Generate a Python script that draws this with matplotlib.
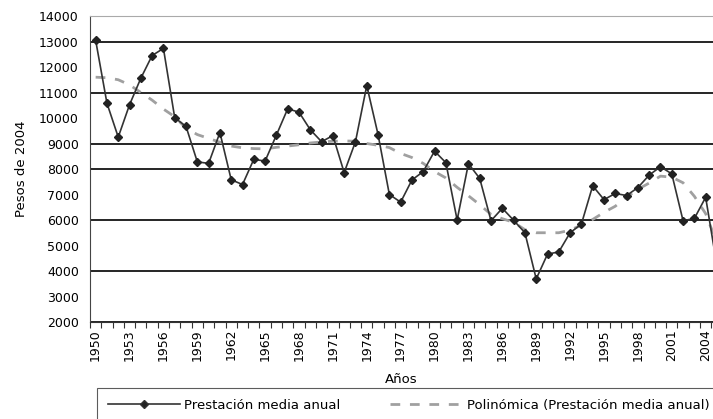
import matplotlib
matplotlib.use('Agg')
import matplotlib.pyplot as plt
from matplotlib.lines import Line2D

# years shown on the chart (2005 is cut off by the right edge)
years = list(range(1950, 2006))

prestacion = [13050, 10580, 9250, 10520, 11560, 12450, 12730, 10010, 9670, 8280,
              8220, 9430, 7580, 7390, 8380, 8310, 9330, 10360, 10230, 9540,
              9070, 9310, 7860, 9070, 11270, 9350, 7000, 6700, 7570, 7900,
              8700, 8250, 6000, 8210, 7630, 5970, 6460, 5990, 5500, 3690,
              4660, 4750, 5500, 5840, 7340, 6800, 7040, 6960, 7270, 7760,
              8090, 7810, 5970, 6060, 6890, 4200]

polinomica = [11600, 11580, 11500, 11300, 11000, 10700, 10350, 10050, 9600, 9350,
              9200, 9050, 8900, 8830, 8800, 8790, 8850, 8900, 8950, 9020,
              9060, 9090, 9100, 9090, 9000, 8930, 8840, 8610, 8450, 8220,
              7900, 7650, 7280, 6950, 6600, 6220, 6050, 5910, 5620, 5500,
              5500, 5500, 5600, 5800, 6020, 6300, 6540, 6900, 7200, 7450,
              7720, 7680, 7460, 6930, 6250, 5100]

tick_years = list(range(1950, 2005, 3))
y_ticks = list(range(2000, 15000, 1000))
grid_values = [2000, 4000, 6000, 8000, 9000, 11000, 13000]

plt.rcParams['font.family'] = ['DejaVu Sans']

fig = plt.figure(figsize=(7.13, 4.19), dpi=100)
ax = fig.add_axes([90 / 713, 1 - 322 / 419, 623 / 713, 306 / 419])

for v in grid_values:
    ax.axhline(v, color='black', linewidth=1.2, zorder=1)

ax.plot(years, polinomica, color='#a0a0a0', linestyle=(0, (3.5, 3.5)), linewidth=2, zorder=2)
ax.plot(years, prestacion, color='#333333', linewidth=1.2, marker='D', markersize=4.5,
        markerfacecolor='#222222', markeredgecolor='#222222', zorder=3)

ax.set_xlim(1949.5, 2004.65)
ax.set_ylim(2000, 14000)

# labels on the categories, tick marks between them
ax.set_xticks(tick_years)
ax.set_xticklabels([str(y) for y in tick_years], rotation=90, fontsize=9)
ax.set_xticks([y + 0.5 for y in range(1949, 2005)], minor=True)
ax.tick_params(axis='x', which='major', length=0, pad=5)
ax.tick_params(axis='x', which='minor', length=4, width=0.8, color='#333333')

ax.set_yticks(y_ticks)
ax.set_yticklabels([str(v) for v in y_ticks], fontsize=9)
ax.set_yticks(grid_values, minor=True)
ax.tick_params(axis='y', which='major', length=0, pad=8)
ax.tick_params(axis='y', which='minor', length=5, width=1, color='black')

ax.spines['right'].set_visible(False)
ax.spines['top'].set_color('#aaaaaa')
ax.spines['left'].set_color('#444444')
ax.spines['bottom'].set_color('#333333')

ax.set_xlabel('Años', fontsize=9.5, labelpad=9)
ax.set_ylabel('Pesos de 2004', fontsize=9.5, labelpad=8)

handles = [Line2D([], [], color='#333333', linewidth=1.2, marker='D', markersize=4,
                  markerfacecolor='#222222'),
           Line2D([], [], color='#a0a0a0', linestyle=(0, (3.5, 3.5)), linewidth=2)]
leg = fig.legend(handles, ['Prestación media anual', 'Polinómica (Prestación media anual)'],
                 loc='upper left', bbox_to_anchor=(97 / 713, 1 - 388 / 419), ncol=2,
                 fontsize=9.5, handlelength=5.5, handletextpad=0.3, columnspacing=3.8,
                 borderpad=0.8, borderaxespad=0, fancybox=False, frameon=True)
leg.get_frame().set_edgecolor('#333333')
leg.get_frame().set_linewidth(0.8)

fig.savefig('out.png', dpi=100)
